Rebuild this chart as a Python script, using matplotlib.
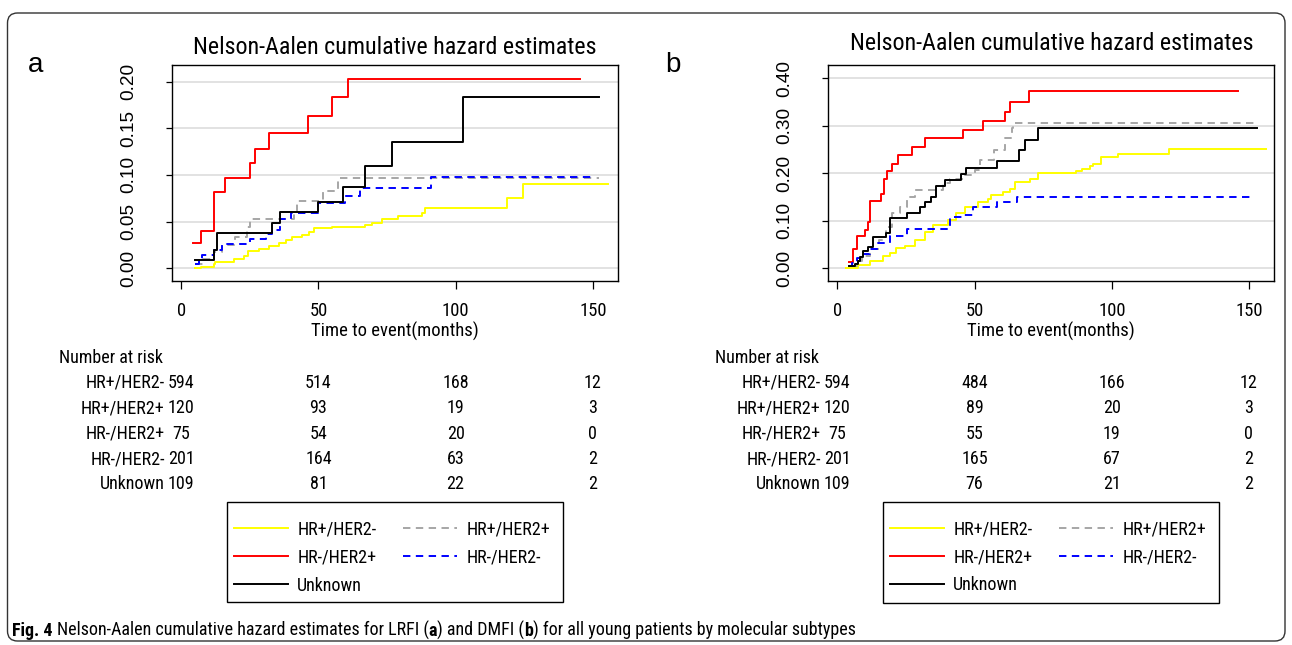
import matplotlib
matplotlib.use('Agg')
import matplotlib.pyplot as plt
from matplotlib import font_manager
from matplotlib.lines import Line2D
from matplotlib.patches import FancyBboxPatch, Rectangle
from matplotlib.transforms import IdentityTransform

W, H = 1292, 645

# fonts: Stata output looks like Arial Narrow; fall back to a smaller Arial clone
names = {f.name for f in font_manager.fontManager.ttflist}
REG = 'Liberation Sans'
cands = ['Liberation Sans Narrow', 'Arial Narrow', 'Roboto Condensed', 'Nimbus Sans Narrow']
NARROW = next((c for c in cands if c in names), None)
S = 1.0
if NARROW is None:
    NARROW, S = REG, 0.84
plt.rcParams['font.family'] = [NARROW, 'DejaVu Sans']

###############################################################################
# data
groups = ['HR+/HER2-', 'HR+/HER2+', 'HR-/HER2+', 'HR-/HER2-', 'Unknown']
risk_times = [0, 50, 100, 150]

# panel a : LRFI
a_yel_t = [5, 7, 11.8, 12.4, 19.1, 22.7, 24.3, 28.2, 31.8, 35.5, 38, 40.3, 44, 46.4, 48.3,
           54.9, 67, 69.5, 73.2, 79, 87.8, 89, 118.8, 124.7]
a_yel_y = [0, 0.0015, 0.005, 0.0064, 0.0096, 0.013, 0.018, 0.021, 0.024, 0.0275, 0.030, 0.033,
           0.036, 0.039, 0.043, 0.0443, 0.0464, 0.0486, 0.0525, 0.056, 0.059, 0.065, 0.0757, 0.0907]
a_yel_end = 155.5
a_gry_t = [5, 8, 12, 14.8, 19.7, 23.9, 25.1, 40.9, 42.1, 51.8, 57.2]
a_gry_y = [0.005, 0.010, 0.017, 0.025, 0.034, 0.044, 0.0525, 0.060, 0.072, 0.083, 0.0966]
a_gry_end = 152.4
a_red_t = [4.1, 7.3, 11.9, 16.0, 25.0, 26.9, 31.9, 46.0, 55.1, 60.9]
a_red_y = [0.0268, 0.040, 0.0818, 0.0964, 0.1125, 0.128, 0.145, 0.163, 0.183, 0.203]
a_red_end = 145.5
a_blu_t = [5, 6.5, 7.5, 12, 14.8, 25, 31, 33, 36, 40, 50, 59.6, 65, 90.9]
a_blu_y = [0.005, 0.0095, 0.0143, 0.020, 0.0255, 0.031, 0.0364, 0.041, 0.0525, 0.059, 0.070,
           0.0775, 0.0857, 0.098]
a_blu_end = 150.6
a_blk_t = [5.1, 12.0, 13.1, 32.9, 35.9, 50, 59, 67, 76.8, 102.8]
a_blk_y = [0.0088, 0.0196, 0.0378, 0.0490, 0.060, 0.0714, 0.0875, 0.109, 0.135, 0.183]
a_blk_end = 152.4
a_risk = [[594, 514, 168, 12],
          [120, 93, 19, 3],
          [75, 54, 20, 0],
          [201, 164, 63, 2],
          [109, 81, 22, 2]]

# panel b : DMFI
b_yel_t = [3.3, 7.5, 12, 16.7, 19.1, 21.5, 24.6, 28.2, 31.8, 34.9, 40.4, 43.4, 46.4, 51.3, 55,
           56.1, 60.4, 62.8, 64.7, 70.1, 73.2, 87, 89.1, 92.1, 93.3, 96, 102.2, 121]
b_yel_y = [0.001, 0.008, 0.016, 0.026, 0.033, 0.042, 0.047, 0.060, 0.077, 0.092, 0.102, 0.117,
           0.129, 0.139, 0.146, 0.154, 0.160, 0.166, 0.181, 0.187, 0.201, 0.205, 0.210, 0.215,
           0.219, 0.235, 0.241, 0.252]
b_yel_end = 156
b_gry_t = [4.5, 7, 9, 12, 15, 17.7, 19.8, 22.7, 25.3, 28.3, 38.6, 41, 45.9, 50.2, 52, 56.9,
           61.1, 63.5, 64.1]
b_gry_y = [0.005, 0.015, 0.025, 0.040, 0.060, 0.0877, 0.1158, 0.130, 0.150, 0.165, 0.179, 0.188,
           0.196, 0.207, 0.228, 0.250, 0.2737, 0.2947, 0.307]
b_gry_end = 152.9
b_red_t = [4.4, 5.8, 7.1, 10.1, 11.3, 11.9, 15.8, 17, 18, 19.8, 22, 27.1, 32, 45.9, 52.9, 61.1,
           63, 70]
b_red_y = [0.013, 0.040, 0.068, 0.081, 0.098, 0.141, 0.157, 0.188, 0.205, 0.220, 0.238, 0.256,
           0.274, 0.291, 0.310, 0.330, 0.350, 0.373]
b_red_end = 146
b_blu_t = [4.1, 5.5, 7, 8.2, 11.8, 14.9, 19.2, 25.3, 41.2, 45.8, 49.5, 58, 65.3]
b_blu_y = [0.005, 0.012, 0.022, 0.030, 0.040, 0.053, 0.067, 0.082, 0.107, 0.112, 0.129, 0.140,
           0.150]
b_blu_end = 151
b_blk_t = [4.2, 6.5, 7.5, 8.2, 9.4, 11, 13, 17.9, 19.3, 25.2, 30, 31.9, 34.3, 36.1, 39.2, 45.2,
           47, 58, 66.1, 68.3, 73]
b_blk_y = [0.005, 0.010, 0.016, 0.024, 0.036, 0.045, 0.065, 0.075, 0.106, 0.117, 0.129, 0.140,
           0.151, 0.173, 0.186, 0.198, 0.211, 0.227, 0.250, 0.271, 0.295]
b_blk_end = 152.9
b_risk = [[594, 484, 166, 12],
          [120, 89, 20, 3],
          [75, 55, 19, 0],
          [201, 165, 67, 2],
          [109, 76, 21, 2]]

###############################################################################
# styles, same order as groups
colors = ['#ffff00', '#a6a6a6', '#ff0000', '#0000ff', '#000000']
lstyles = ['-', (0, (3.8, 2.8)), '-', (0, (3.8, 2.8)), '-']
LW = 1.4
FS = 13.0 * S


def fx(px):
    return px / W


def fy(py):
    return 1 - py / H


fig = plt.figure(figsize=(W / 100, H / 100), dpi=100)


def panel(left, right, yticks, ylim, curves, title_base):
    ax = fig.add_axes([fx(left), fy(281), (right - left) / W, (281 - 64.7) / H])
    for (t, y, end), c, ls in zip(curves, colors, lstyles):
        ax.step(t + [end], y + [y[-1]], where='post', color=c, ls=ls, lw=LW)
    ax.set_xlim(-3.3, 159.2)
    ax.set_ylim(*ylim)
    ax.set_xticks(risk_times)
    ax.set_yticks(yticks)
    ax.set_yticklabels(['%.2f' % v for v in yticks])
    ax.grid(axis='y', color='#dadada', lw=1.1)
    ax.set_axisbelow(True)
    for s in ax.spines.values():
        s.set_linewidth(1.0)
    ax.tick_params(axis='x', length=5.8, width=0.9, pad=9.5, labelsize=13.4 * S)
    ax.tick_params(axis='y', length=4.1, width=0.9, pad=21, labelsize=13.7, labelrotation=90)
    for lab in ax.get_yticklabels():
        lab.set_family(REG)
        lab.set_va('center')
    ax.set_xlabel('Time to event(months)', fontsize=13.4 * S, va='top')
    ax.xaxis.set_label_coords(0.5, -0.19)
    fig.text(fx((left + right) / 2), fy(title_base), 'Nelson-Aalen cumulative hazard estimates',
             ha='center', va='baseline', fontsize=17.3 * S)
    return ax


curves_a = [(a_yel_t, a_yel_y, a_yel_end), (a_gry_t, a_gry_y, a_gry_end),
            (a_red_t, a_red_y, a_red_end), (a_blu_t, a_blu_y, a_blu_end),
            (a_blk_t, a_blk_y, a_blk_end)]
curves_b = [(b_yel_t, b_yel_y, b_yel_end), (b_gry_t, b_gry_y, b_gry_end),
            (b_red_t, b_red_y, b_red_end), (b_blu_t, b_blu_y, b_blu_end),
            (b_blk_t, b_blk_y, b_blk_end)]

panel(172.3, 618, [0, 0.05, 0.10, 0.15, 0.20], (-0.0136, 0.218), curves_a, 54)
panel(828.3, 1274.3, [0, 0.10, 0.20, 0.30, 0.40], (-0.0267, 0.4287), curves_b, 50)

fig.text(fx(28), fy(72), 'a', fontsize=20, family=REG, va='baseline')
fig.text(fx(665), fy(72), 'b', fontsize=20, family=REG, va='baseline')


# number at risk tables, columns lined up with the time axis ticks
def risk_table(col0, col150, risk):
    tab = fig.add_axes([fx(col0), fy(497), (col150 - col0) / W, (497 - 345) / H])
    tab.set_xlim(0, 150)
    tab.set_ylim(5.5, -0.5)
    tab.axis('off')
    tab.annotate('Number at risk', (0, 0), xytext=(-88, 0), textcoords='offset points',
                 ha='left', va='center', fontsize=FS)
    for i, (g, row) in enumerate(zip(groups, risk)):
        tab.annotate(g, (0, i + 1), xytext=(-12, 0), textcoords='offset points',
                     ha='right', va='center', fontsize=FS)
        for t, n in zip(risk_times, row):
            tab.text(t, i + 1, str(n), ha='center', va='center', fontsize=FS)


risk_table(181.3, 592.7, a_risk)
risk_table(837.3, 1248.7, b_risk)

# legends (column-wise fill: yellow, red, black | gray, blue), box drawn separately
order = [0, 2, 4, 1, 3]
handles = [Line2D([], [], color=colors[k], ls=lstyles[k], lw=LW) for k in order]
labels = [groups[k] for k in order]
for bx0, by0, bx1, by1 in ((227.3, 502.3, 563.3, 602.3), (883.3, 501.7, 1219.3, 603.3)):
    fig.legend(handles, labels, ncol=2, loc='upper left',
               bbox_to_anchor=(fx(bx0 + 6.7), fy(by0 + 18.5)), fontsize=FS,
               frameon=False, handlelength=3.0, handletextpad=0.5, columnspacing=1.48,
               labelspacing=0.55, borderpad=0, borderaxespad=0)
    fig.add_artist(Rectangle((fx(bx0), fy(by1)), (bx1 - bx0) / W, (by1 - by0) / H,
                             transform=fig.transFigure, fill=False, ec='black', lw=1.0))

# rounded outer frame
frame = FancyBboxPatch((7.5, H - 641), 1285 - 7.5, 641 - 13,
                       boxstyle='round,pad=0,rounding_size=10', transform=IdentityTransform(),
                       fill=False, ec='#333333', lw=1.0)
fig.add_artist(frame)

# caption, pieces set one after the other
cap_parts = [('Fig. 4 ', 'bold'), ('Nelson-Aalen cumulative hazard estimates for LRFI (', 'normal'),
             ('a', 'bold'), (') and DMFI (', 'normal'), ('b', 'bold'),
             (') for all young patients by molecular subtypes', 'normal')]
fig.canvas.draw()
rend = fig.canvas.get_renderer()
xpos = 12
for txt, wt in cap_parts:
    t = fig.text(fx(xpos), fy(636), txt, fontsize=13.0, weight=wt, va='baseline')
    bb = t.get_window_extent(rend)
    xpos = bb.x1

plt.savefig('out.png', dpi=100)
